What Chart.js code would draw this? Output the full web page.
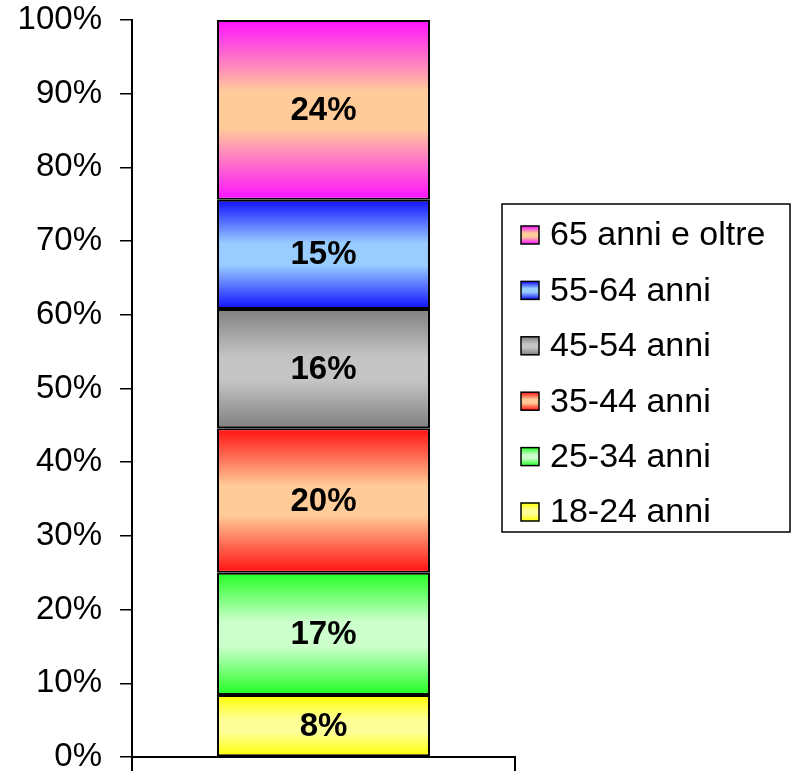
<!DOCTYPE html>
<html>
<head>
<meta charset="utf-8">
<script src="https://cdn.jsdelivr.net/npm/chart.js@4/dist/chart.umd.min.js"></script>
<style>
  html, body { margin: 0; padding: 0; background: #fff; }
  #wrap { width: 796px; height: 771px; }
</style>
</head>
<body>
<div id="wrap"><canvas id="c" width="796" height="771"></canvas></div>
<script>
// ---- data ----
const categories = [''];
const ageGroups = ['18-24 anni', '25-34 anni', '35-44 anni', '45-54 anni', '55-64 anni', '65 anni e oltre'];
const shares = [8.4, 16.6, 19.6, 16.2, 14.8, 24.4];

// ---- styles ----
const edgeColors = ['#FFFF00', '#22FF22', '#FF1010', '#808080', '#1010FF', '#FF10FF'];
const centerColors = ['#FFFF99', '#CCFFCC', '#FFCC99', '#C4C4C4', '#99CCFF', '#FFCC99'];
const FONT = '"Liberation Sans", Arial, sans-serif';

function makeGrad(ctx2d, y0, y1, i) {
  const g = ctx2d.createLinearGradient(0, y0, 0, y1);
  g.addColorStop(0, edgeColors[i]);
  g.addColorStop(0.4, centerColors[i]);
  g.addColorStop(0.6, centerColors[i]);
  g.addColorStop(1, edgeColors[i]);
  return g;
}

function barFill(context) {
  const chart = context.chart;
  const i = context.datasetIndex;
  if (!chart.chartArea || !chart.scales.y) return edgeColors[i];
  const ds = chart.data.datasets;
  let base = 0;
  for (let k = 0; k < i; k++) base += ds[k].data[0];
  const top = base + ds[i].data[0];
  const y0 = chart.scales.y.getPixelForValue(top);
  const y1 = chart.scales.y.getPixelForValue(base);
  return makeGrad(chart.ctx, y0, y1, i);
}

const valueLabels = {
  id: 'valueLabels',
  afterDatasetsDraw(chart) {
    const ctx = chart.ctx;
    ctx.save();
    ctx.font = 'bold 33px ' + FONT;
    ctx.fillStyle = '#000';
    ctx.textAlign = 'center';
    ctx.textBaseline = 'middle';
    chart.data.datasets.forEach((ds, i) => {
      const meta = chart.getDatasetMeta(i);
      meta.data.forEach((el, j) => {
        const p = el.getCenterPoint();
        ctx.fillText(Math.round(ds.data[j]) + '%', p.x, p.y + 1);
      });
    });
    ctx.restore();
  }
};

const boxLegend = {
  id: 'boxLegend',
  afterDraw(chart) {
    const ctx = chart.ctx;
    const ds = chart.data.datasets;
    const bx = 502, by = 204, bw = 288, bh = 328;
    ctx.save();
    ctx.strokeStyle = '#000';
    ctx.lineWidth = 1.5;
    ctx.strokeRect(bx, by, bw, bh);
    ctx.font = '34px ' + FONT;
    ctx.textBaseline = 'middle';
    ctx.textAlign = 'left';
    const n = ds.length;
    for (let r = 0; r < n; r++) {
      const i = n - 1 - r;
      const cy = 235 + r * 55.4;
      const sx = 521, sy = cy - 9, s = 18;
      ctx.fillStyle = makeGrad(ctx, sy, sy + s, i);
      ctx.fillRect(sx, sy, s, s);
      ctx.lineWidth = 1.5;
      ctx.strokeStyle = '#000';
      ctx.strokeRect(sx, sy, s, s);
      ctx.fillStyle = '#000';
      ctx.fillText(ds[i].label, 550, cy + 1);
    }
    ctx.restore();
  }
};

const datasets = ageGroups.map((name, i) => ({
  label: name,
  data: [shares[i]],
  backgroundColor: barFill,
  borderColor: '#000',
  borderWidth: 2,
  borderSkipped: false,
  barPercentage: 0.556,
  categoryPercentage: 1.0
}));

new Chart(document.getElementById('c'), {
  type: 'bar',
  data: { labels: categories, datasets },
  options: {
    responsive: false,
    animation: false,
    layout: { padding: { top: 20, right: 281, left: 0, bottom: 0 } },
    plugins: { legend: { display: false }, tooltip: { enabled: false } },
    scales: {
      x: {
        stacked: true,
        grid: { offset: true, drawOnChartArea: false, drawTicks: true, tickLength: 14, color: '#000', lineWidth: 2 },
        border: { display: true, color: '#000', width: 2 },
        ticks: { display: false },
        afterFit(s) { s.height = 14; s.paddingLeft = 0; s.paddingRight = 0; }
      },
      y: {
        stacked: true,
        min: 0,
        max: 100,
        ticks: {
          stepSize: 10,
          color: '#000',
          padding: 18,
          font: { family: FONT, size: 33 },
          callback: v => v + '%'
        },
        grid: { drawOnChartArea: false, drawTicks: true, tickLength: 12, color: '#000', lineWidth: 1.5 },
        border: { display: true, color: '#000', width: 2 },
        afterFit(s) { s.width = 132; s.paddingTop = 0; s.paddingBottom = 0; }
      }
    }
  },
  plugins: [valueLabels, boxLegend]
});
</script>
</body>
</html>
